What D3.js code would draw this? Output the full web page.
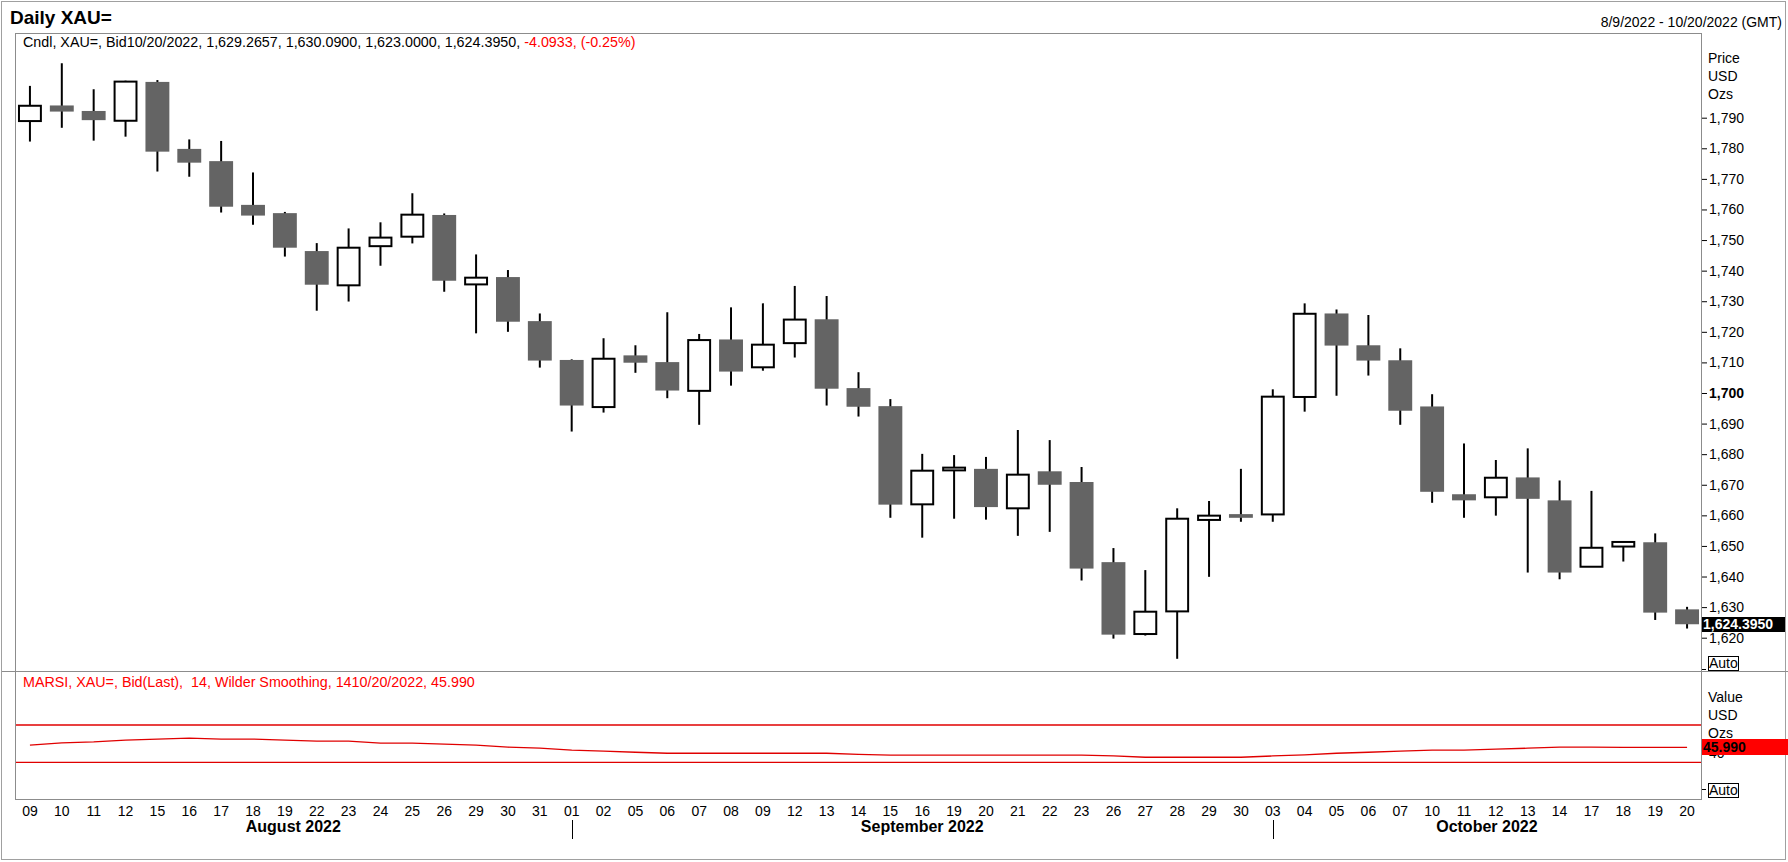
<!DOCTYPE html>
<html>
<head>
<meta charset="utf-8">
<script src="https://cdn.jsdelivr.net/npm/d3@7"></script>
<style>
  body { margin: 0; background: #fff; }
  svg text { font-family: Arial, 'Liberation Sans', sans-serif; }
</style>
</head>
<body>
<div id="chart"></div>
<script>
// trading days shown on the chart
const dates = [
  '2022-08-09', '2022-08-10', '2022-08-11', '2022-08-12', '2022-08-15', '2022-08-16',
  '2022-08-17', '2022-08-18', '2022-08-19', '2022-08-22', '2022-08-23', '2022-08-24',
  '2022-08-25', '2022-08-26', '2022-08-29', '2022-08-30', '2022-08-31',
  '2022-09-01', '2022-09-02', '2022-09-05', '2022-09-06', '2022-09-07', '2022-09-08',
  '2022-09-09', '2022-09-12', '2022-09-13', '2022-09-14', '2022-09-15', '2022-09-16',
  '2022-09-19', '2022-09-20', '2022-09-21', '2022-09-22', '2022-09-23', '2022-09-26',
  '2022-09-27', '2022-09-28', '2022-09-29', '2022-09-30',
  '2022-10-03', '2022-10-04', '2022-10-05', '2022-10-06', '2022-10-07', '2022-10-10',
  '2022-10-11', '2022-10-12', '2022-10-13', '2022-10-14', '2022-10-17', '2022-10-18',
  '2022-10-19', '2022-10-20',
];
const months = ['August 2022', 'September 2022', 'October 2022'];

const opens = [
  1788.9, 1794.0, 1792.2, 1789.0, 1801.7, 1779.8, 1775.8, 1761.5, 1758.8, 1746.4,
  1735.2, 1748.0, 1751.1, 1758.2, 1735.5, 1737.9, 1723.5, 1710.8, 1695.4, 1712.3,
  1710.1, 1700.7, 1717.5, 1708.4, 1716.3, 1724.1, 1701.6, 1695.7, 1663.6, 1674.7,
  1675.2, 1662.3, 1674.4, 1670.9, 1644.7, 1621.2, 1628.6, 1658.5, 1660.4, 1660.3,
  1698.7, 1726.0, 1715.6, 1710.7, 1695.6, 1666.9, 1665.9, 1672.4, 1664.9, 1643.2,
  1649.8, 1651.2, 1629.2657,
];
const highs = [
  1800.4, 1807.8, 1799.3, 1802.1, 1802.3, 1782.9, 1782.4, 1772.1, 1759.2, 1749.0,
  1753.8, 1755.8, 1765.3, 1758.7, 1745.3, 1740.2, 1726.0, 1711.0, 1717.9, 1715.6,
  1726.4, 1719.3, 1728.0, 1729.3, 1735.0, 1731.7, 1706.8, 1698.0, 1680.1, 1679.7,
  1679.1, 1687.9, 1684.6, 1675.8, 1649.3, 1642.1, 1662.3, 1664.7, 1675.2, 1701.2,
  1729.3, 1727.3, 1725.5, 1714.6, 1699.6, 1683.5, 1678.1, 1681.9, 1671.4, 1668.0,
  1651.3, 1654.1, 1630.09,
];
const lows = [
  1782.2, 1786.7, 1782.5, 1783.8, 1772.4, 1770.7, 1759.0, 1755.0, 1744.6, 1726.9,
  1729.9, 1741.6, 1748.9, 1733.1, 1719.5, 1720.0, 1708.3, 1687.4, 1693.6, 1706.6,
  1698.3, 1689.6, 1702.4, 1707.3, 1711.6, 1695.9, 1692.3, 1659.2, 1652.7, 1658.9,
  1658.6, 1653.3, 1654.6, 1638.7, 1619.7, 1620.7, 1613.1, 1639.9, 1657.9, 1657.9,
  1693.9, 1699.1, 1705.7, 1689.6, 1664.1, 1659.2, 1659.9, 1641.3, 1639.1, 1643.2,
  1644.9, 1625.8, 1623.0,
];
const closes = [
  1793.9, 1792.0, 1789.2, 1801.8, 1778.9, 1775.3, 1760.9, 1758.0, 1747.5, 1735.4,
  1747.5, 1750.8, 1758.3, 1736.7, 1737.7, 1723.3, 1710.6, 1695.9, 1711.2, 1709.9,
  1700.8, 1717.3, 1707.0, 1715.8, 1724.0, 1701.4, 1695.5, 1663.5, 1674.6, 1675.6,
  1662.7, 1673.3, 1670.0, 1642.6, 1621.0, 1628.5, 1658.9, 1659.9, 1659.2, 1698.8,
  1725.9, 1715.5, 1710.6, 1694.2, 1667.7, 1664.9, 1672.3, 1665.4, 1641.3, 1649.4,
  1651.3, 1628.2, 1624.395,
];
// change shown in the header of the price panel
const lastChange = '-4.0933, (-0.25%)';
// MARSI (14, Wilder smoothing)
const rsiValues = [
  48.4, 50.9, 51.9, 53.8, 54.9, 55.9, 54.9, 54.9, 53.8, 52.8, 52.8, 50.5, 50.5, 49.5,
  48.4, 46.2, 45.1, 43.0, 41.9, 40.8, 39.7, 39.7, 39.7, 39.7, 39.7, 39.7, 38.6, 37.6,
  37.6, 37.6, 37.6, 37.6, 37.6, 37.6, 36.8, 35.4, 35.4, 35.4, 35.4, 36.8, 37.9, 39.7,
  40.8, 41.9, 43.0, 43.0, 44.1, 45.1, 46.3, 46.2, 46.1, 46.0, 45.99,
];
const rsiLevels = [30, 70];
const priceTicks = d3.range(1620, 1791, 10);
const rsiTicks = [40];

const width = 1788;
const height = 862;
const panel = {left: 15, right: 1701, top: 33, split: 671, bottom: 799};
const font = 'Arial, Liberation Sans, sans-serif';

const svg = d3.select('#chart')
    .append('svg')
    .attr('width', width)
    .attr('height', height);

// scales
const x = d3.scaleBand()
    .domain(dates)
    .range([14, 1703])
    .paddingInner(0.25)
    .paddingOuter(0.125);
const cx = (d) => x(d) + x.bandwidth() / 2;
const y = d3.scaleLinear().domain([1620, 1790]).range([637.7, 117.7]);
const yRsi = d3.scaleLinear().domain([30, 70]).range([762.3, 725]);
const fmtDate = (d) => d3.timeFormat('%m/%d/%Y')(new Date(d + 'T12:00'));

// frame and panels
svg.append('rect')
    .attr('x', 1.5).attr('y', 1.5)
    .attr('width', 1784).attr('height', 858)
    .attr('fill', 'none').attr('stroke', '#a0a0a0');
svg.append('rect')
    .attr('x', panel.left + 0.5).attr('y', panel.top + 0.5)
    .attr('width', panel.right - panel.left).attr('height', panel.bottom - panel.top)
    .attr('fill', 'none').attr('stroke', '#8c8c8c');
svg.append('line')
    .attr('x1', 2).attr('x2', width)
    .attr('y1', panel.split + 0.5).attr('y2', panel.split + 0.5)
    .attr('stroke', '#8c8c8c');

// header
svg.append('text')
    .attr('x', 10).attr('y', 24)
    .attr('font-size', 19).attr('font-weight', 'bold')
    .text('Daily XAU=');
svg.append('text')
    .attr('x', 1782).attr('y', 27)
    .attr('text-anchor', 'end').attr('font-size', 14)
    .text('8/9/2022 - 10/20/2022 (GMT)');

const n = dates.length - 1;
const legend = svg.append('text')
    .attr('x', 23).attr('y', 47).attr('font-size', 14.3);
legend.append('tspan')
    .text('Cndl, XAU=, Bid' + fmtDate(dates[n]) + ', ' +
      [opens[n], highs[n], lows[n], closes[n]].map(d3.format(',.4f')).join(', ') + ', ');
legend.append('tspan')
    .attr('fill', '#ff0000')
    .text(lastChange);

// candles
const candles = dates.map((d, i) => ({
  date: d, open: opens[i], high: highs[i], low: lows[i], close: closes[i],
}));
const g = svg.append('g');
g.selectAll('line.wick')
    .data(candles)
    .join('line')
    .attr('class', 'wick')
    .attr('x1', (d) => cx(d.date)).attr('x2', (d) => cx(d.date))
    .attr('y1', (d) => y(d.high)).attr('y2', (d) => y(d.low))
    .attr('stroke', '#000').attr('stroke-width', 2);
g.selectAll('rect.down')
    .data(candles.filter((d) => d.close < d.open))
    .join('rect')
    .attr('class', 'down')
    .attr('x', (d) => x(d.date))
    .attr('width', x.bandwidth())
    .attr('y', (d) => y(d.open))
    .attr('height', (d) => Math.max(1, y(d.close) - y(d.open)))
    .attr('fill', '#646464');
g.selectAll('rect.up')
    .data(candles.filter((d) => d.close >= d.open))
    .join('rect')
    .attr('class', 'up')
    .attr('x', (d) => x(d.date) + 1)
    .attr('width', x.bandwidth() - 2)
    .attr('y', (d) => y(d.close))
    .attr('height', (d) => Math.max(1, y(d.open) - y(d.close)))
    .attr('fill', '#fff')
    .attr('stroke', '#000').attr('stroke-width', 2);

// price axis
const priceAxis = svg.append('g')
    .attr('transform', 'translate(1702,0)')
    .call(d3.axisRight(y).tickValues(priceTicks).tickSize(5).tickPadding(2)
        .tickFormat(d3.format(',')));
priceAxis.select('.domain').remove();
priceAxis.attr('font-size', 14).attr('font-family', font);
priceAxis.selectAll('text')
    .attr('fill', '#000')
    .attr('font-weight', (d) => d % 100 === 0 ? 'bold' : null);

['Price', 'USD', 'Ozs'].forEach((t, i) => {
  svg.append('text').attr('x', 1708).attr('y', 63 + i * 18)
      .attr('font-size', 14).text(t);
});

// last price marker
svg.append('rect')
    .attr('x', 1702).attr('y', 617).attr('width', 83).attr('height', 15)
    .attr('fill', '#000');
svg.append('text')
    .attr('x', 1703).attr('y', y(closes[n]) + 5)
    .attr('font-size', 14).attr('font-weight', 'bold').attr('fill', '#fff')
    .text(d3.format(',.4f')(closes[n]));

// auto buttons
const autoButton = (yTop, tickY) => {
  svg.append('line')
      .attr('x1', 1702).attr('x2', 1706).attr('y1', tickY).attr('y2', tickY)
      .attr('stroke', '#000');
  svg.append('rect')
      .attr('x', 1708.5).attr('y', yTop + 0.5).attr('width', 30).attr('height', 14)
      .attr('fill', '#fff').attr('stroke', '#000');
  svg.append('text')
      .attr('x', 1709).attr('y', yTop + 12)
      .attr('font-size', 14).text('Auto');
};
autoButton(656, 669.5);

// rsi panel
svg.append('text')
    .attr('x', 23).attr('y', 687)
    .attr('font-size', 14.3).attr('fill', '#ff0000')
    .style('white-space', 'pre')
    .text('MARSI, XAU=, Bid(Last),  14, Wilder Smoothing, 14' +
      fmtDate(dates[n]) + ', ' + d3.format('.3f')(rsiValues[n]));

svg.selectAll('line.level')
    .data(rsiLevels)
    .join('line')
    .attr('class', 'level')
    .attr('x1', panel.left + 1).attr('x2', panel.right)
    .attr('y1', (d) => yRsi(d)).attr('y2', (d) => yRsi(d))
    .attr('stroke', '#e00000').attr('stroke-width', 1.3);

svg.append('path')
    .datum(rsiValues)
    .attr('fill', 'none')
    .attr('stroke', '#e00000')
    .attr('stroke-width', 1.3)
    .attr('d', d3.line()
        .x((d, i) => cx(dates[i]))
        .y((d) => yRsi(d)));

const rsiAxis = svg.append('g')
    .attr('transform', 'translate(1702,0)')
    .call(d3.axisRight(yRsi).tickValues(rsiTicks).tickSize(5).tickPadding(2));
rsiAxis.select('.domain').remove();
rsiAxis.attr('font-size', 14).attr('font-family', font);
rsiAxis.selectAll('text').attr('fill', '#000');

['Value', 'USD', 'Ozs'].forEach((t, i) => {
  svg.append('text').attr('x', 1708).attr('y', 702 + i * 18)
      .attr('font-size', 14).text(t);
});

// current rsi marker, drawn over the 40 tick as in the source chart
svg.append('rect')
    .attr('x', 1702).attr('y', 739).attr('width', 86).attr('height', 16)
    .attr('fill', '#ff0000');
svg.append('text')
    .attr('x', 1703).attr('y', yRsi(rsiValues[n]) + 5)
    .attr('font-size', 14).attr('font-weight', 'bold').attr('fill', '#000')
    .text(d3.format('.3f')(rsiValues[n]));
autoButton(783, 789.5);

// time axis
const timeAxis = svg.append('g')
    .attr('transform', `translate(0,${panel.bottom})`)
    .call(d3.axisBottom(x).tickSize(0).tickPadding(7)
        .tickFormat((d) => d.slice(8)));
timeAxis.select('.domain').remove();
timeAxis.attr('font-size', 14).attr('font-family', font);
timeAxis.selectAll('text').attr('fill', '#000');

const groups = d3.groups(dates, (d) => d.slice(0, 7));
groups.forEach(([key, days], i) => {
  const start = i === 0 ? panel.left : cx(days[0]);
  const end = i === groups.length - 1 ? panel.right : cx(groups[i + 1][1][0]);
  if (i > 0) {
    svg.append('line')
        .attr('x1', Math.round(start) + 0.5).attr('x2', Math.round(start) + 0.5)
        .attr('y1', 820).attr('y2', 839)
        .attr('stroke', '#000');
  }
  svg.append('text')
      .attr('x', (start + end) / 2).attr('y', 832)
      .attr('text-anchor', 'middle')
      .attr('font-size', 16).attr('font-weight', 'bold')
      .text(months[i]);
});
</script>
</body>
</html>
